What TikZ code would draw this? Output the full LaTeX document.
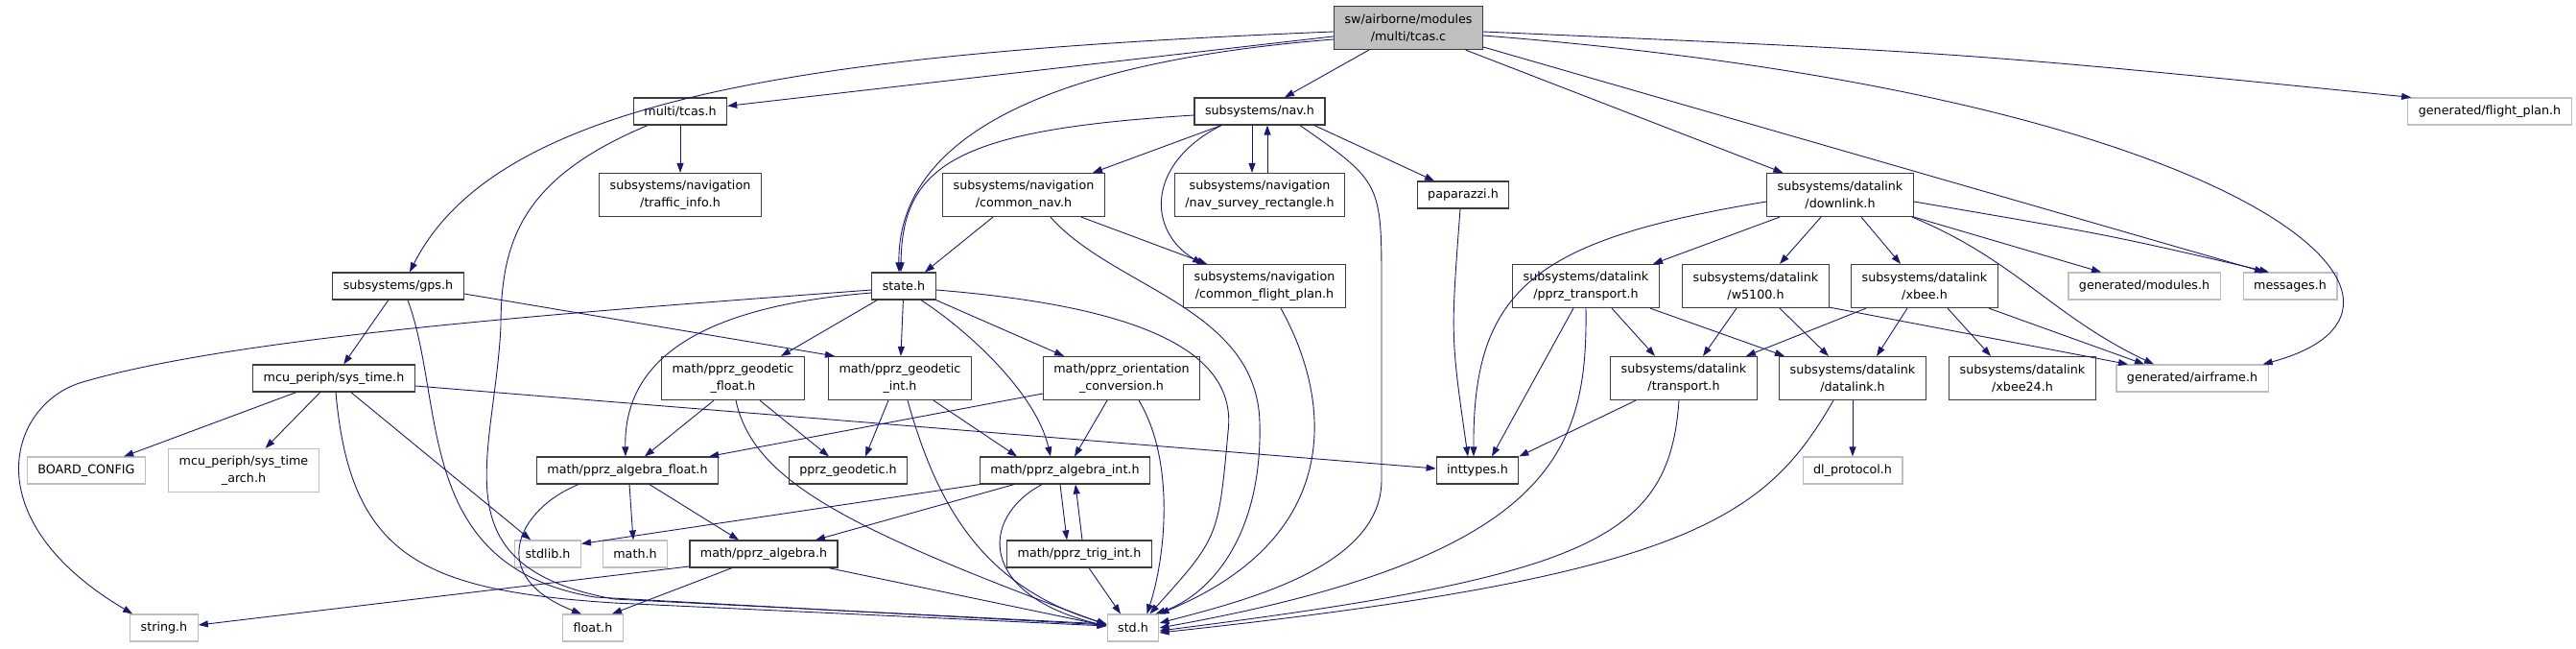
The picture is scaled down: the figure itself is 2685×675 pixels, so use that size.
\documentclass[tikz,border=0pt]{standalone}
\usepackage{fontspec}
\setmainfont{DejaVu Sans}
\usetikzlibrary{arrows.meta}
\definecolor{dxblue}{RGB}{25,25,112}
\definecolor{dxframe}{RGB}{60,60,60}
\definecolor{dxgray}{RGB}{191,191,191}
\tikzset{
  hdr/.style={draw=dxframe, line width=1.2pt, fill=white, inner xsep=11pt, inner ysep=2pt,
    minimum height=28pt, align=center, font=\fontsize{12.7}{18}\selectfont},
  sys/.style={hdr, draw=dxgray},
  two/.style={minimum height=45pt},
  root/.style={hdr, two, fill=dxgray},
  incl/.style={draw=dxblue, line width=0.9pt, -{Triangle[length=10pt,width=7pt]}}
}

\begin{document}
\begin{tikzpicture}[x=1pt,y=-1pt]
        \useasboundingbox (0,0) rectangle (2685,675);

        % Source file
        \node[root] (tcasc) at (1468,29) {sw/airborne/modules\\/multi/tcas.c};

        % First level headers
        \node[hdr] (tcash) at (709,116) {multi/tcas.h};
        \node[hdr] (navh) at (1313,116) {subsystems/nav.h};
        \node[sys] (flightplan) at (2595,116) {generated/flight\_plan.h};
        \node[hdr, two] (traffic) at (709,203) {subsystems/navigation\\/traffic\_info.h};
        \node[hdr, two] (commonnav) at (1067,203) {subsystems/navigation\\/common\_nav.h};
        \node[hdr, two] (survey) at (1313,203) {subsystems/navigation\\/nav\_survey\_rectangle.h};
        \node[hdr] (paparazzi) at (1525,203) {paparazzi.h};
        \node[hdr, two] (downlink) at (1918,203) {subsystems/datalink\\/downlink.h};

        % Middle row
        \node[hdr] (gps) at (415,298) {subsystems/gps.h};
        \node[hdr] (state) at (942,298) {state.h};
        \node[hdr, two] (cfp) at (1318,298) {subsystems/navigation\\/common\_flight\_plan.h};
        \node[hdr, two] (pprztr) at (1653,298) {subsystems/datalink\\/pprz\_transport.h};
        \node[hdr, two] (w5100) at (1830,298) {subsystems/datalink\\/w5100.h};
        \node[hdr, two] (xbee) at (2006,298) {subsystems/datalink\\/xbee.h};
        \node[sys] (modules) at (2235,298) {generated/modules.h};
        \node[sys] (messages) at (2387,298) {messages.h};

        \node[hdr] (systime) at (348,394) {mcu\_periph/sys\_time.h};
        \node[hdr, two] (geofloat) at (764,394) {math/pprz\_geodetic\\\_float.h};
        \node[hdr, two] (geoint) at (938,394) {math/pprz\_geodetic\\\_int.h};
        \node[hdr, two] (orient) at (1169,394) {math/pprz\_orientation\\\_conversion.h};
        \node[hdr, two] (transport) at (1755,394) {subsystems/datalink\\/transport.h};
        \node[hdr, two] (datalink) at (1931,394) {subsystems/datalink\\/datalink.h};
        \node[hdr, two] (xbee24) at (2108,394) {subsystems/datalink\\/xbee24.h};
        \node[sys] (airframe) at (2285,394) {generated/airframe.h};

        \node[sys] (boardcfg) at (90,490) {BOARD\_CONFIG};
        \node[sys, two] (systimearch) at (254,490) {mcu\_periph/sys\_time\\\_arch.h};
        \node[hdr] (algfloat) at (654,490) {math/pprz\_algebra\_float.h};
        \node[hdr] (geodetic) at (884,490) {pprz\_geodetic.h};
        \node[hdr] (algint) at (1110,490) {math/pprz\_algebra\_int.h};
        \node[hdr] (inttypes) at (1540,490) {inttypes.h};
        \node[sys] (dlproto) at (1931,490) {dl\_protocol.h};

        \node[sys] (stdlib) at (571,577) {stdlib.h};
        \node[sys] (mathh) at (662,577) {math.h};
        \node[hdr] (algebra) at (796,577) {math/pprz\_algebra.h};
        \node[hdr] (trigint) at (1125,577) {math/pprz\_trig\_int.h};

        % System headers at the bottom
        \node[sys] (stringh) at (171,654) {string.h};
        \node[sys] (floath) at (618,654) {float.h};
        \node[sys] (stdh) at (1181,654) {std.h};

        % Straight includes, centre to centre
        \foreach \a/\b in {tcasc/tcash, tcasc/navh, tcasc/downlink, tcash/traffic,
            gps/systime, systime/boardcfg, systime/systimearch, systime/stdlib,
            state/geoint, datalink/dlproto} {
            \draw[incl] (\a) -- (\b);
        }

        % Includes of tcas.c
        \draw[incl] ([yshift=-4pt]tcasc.west) .. controls (850,55) and (520,100) .. ([xshift=12pt]gps.north);
        \draw[incl] ([yshift=-12pt]tcasc.west) .. controls (1150,60) and (935,120) .. ([xshift=-5pt]state.north);
        \draw[incl] ([yshift=-20pt]tcasc.east) -- ([xshift=-27pt]messages.north);
        \draw[incl] ([yshift=-8pt]tcasc.east) .. controls (2350,100) and (2580,320) .. ([xshift=-6pt]airframe.north east);
        \draw[incl] ([yshift=-4pt]tcasc.east) .. controls (2050,55) .. ([xshift=4pt]flightplan.north west);

        % multi/tcas.h, gps.h and sys_time.h
        \draw[incl] ([xshift=-34pt]tcash.south) .. controls (545,185) and (522,250) .. (522,340)
            .. controls (515,480) and (455,590) .. (640,624) -- ([yshift=4pt]stdh.west);
        \draw[incl] ([xshift=10pt]gps.south) .. controls (465,420) and (430,590) .. (620,622) -- ([yshift=3pt]stdh.west);
        \draw[incl] ([yshift=-8pt]gps.east) -- ([xshift=-68pt]geoint.north);
        \draw[incl] ([xshift=2pt]systime.south) .. controls (365,580) and (440,615) .. (640,628) -- ([yshift=2pt]stdh.west);
        \draw[incl] ([yshift=-8pt]systime.east) -- ([yshift=2pt]inttypes.west);

        % nav.h and navigation headers
        \draw[incl] ([yshift=-4pt]navh.west) .. controls (1000,135) and (940,170) .. ([xshift=-3pt]state.north);
        \draw[incl] ([xshift=-40pt]navh.south) -- ([xshift=72pt]commonnav.north);
        \draw[incl] ([xshift=-8pt]navh.south) -- ([xshift=-8pt]survey.north);
        \draw[incl] ([xshift=8pt]survey.north) -- ([xshift=8pt]navh.south);
        \draw[incl] ([xshift=-40pt]navh.south) .. controls (1195,170) and (1195,240) .. ([xshift=-65pt]cfp.north);
        \draw[incl] ([xshift=42pt]navh.south) .. controls (1440,190) .. (1440,300) -- (1440,500)
            .. controls (1440,590) and (1300,625) .. ([yshift=5pt]stdh.east);
        \draw[incl] ([xshift=57pt]navh.south) -- ([xshift=-30pt]paparazzi.north);
        \draw[incl] ([xshift=-32pt]commonnav.south) -- ([xshift=22pt]state.north);
        \draw[incl] ([xshift=60pt]commonnav.south) -- ([xshift=-60pt]cfp.north);
        \draw[incl] ([xshift=28pt]commonnav.south) .. controls (1160,300) and (1310,320) .. (1313,440)
            .. controls (1316,560) and (1260,620) .. ([xshift=-4pt]stdh.north east);
        \draw[incl] ([xshift=17pt]cfp.south) .. controls (1390,420) and (1400,560) .. (stdh.north east);
        \draw[incl] ([xshift=-3pt]paparazzi.south) .. controls (1512,350) .. ([xshift=-10pt]inttypes.north);

        % downlink.h and the datalink headers
        \draw[incl] ([yshift=-7pt]downlink.west) .. controls (1600,250) and (1535,300) .. ([xshift=-4pt]inttypes.north);
        \draw[incl] ([xshift=-63pt]downlink.south) -- ([xshift=70pt]pprztr.north);
        \draw[incl] ([xshift=-20pt]downlink.south) -- ([xshift=25pt]w5100.north);
        \draw[incl] ([xshift=22pt]downlink.south) -- ([xshift=-25pt]xbee.north);
        \draw[incl] (downlink.south east) -- ([xshift=-45pt]modules.north);
        \draw[incl] ([yshift=-7pt]downlink.east) .. controls (2200,245) .. ([xshift=-22pt]messages.north);
        \draw[incl] ([xshift=-2pt]downlink.south east) .. controls (2100,270) and (2140,330) .. ([xshift=-40pt]airframe.north);

        \draw[incl] ([xshift=-13pt]pprztr.south) -- ([xshift=15pt]inttypes.north);
        \draw[incl] (pprztr.south) .. controls (1655,470) and (1620,580) .. (stdh.east);
        \draw[incl] ([xshift=27pt]pprztr.south) -- ([xshift=-30pt]transport.north);
        \draw[incl] ([xshift=-10pt]pprztr.south east) -- ([xshift=-71pt]datalink.north);
        \draw[incl] ([xshift=-20pt]w5100.south) -- ([xshift=20pt]transport.north);
        \draw[incl] ([xshift=25pt]w5100.south) -- ([xshift=-25pt]datalink.north);
        \draw[incl] ([yshift=1pt]w5100.south east) -- ([xshift=-67pt]airframe.north);
        \draw[incl] ([xshift=-61pt]xbee.south) -- ([xshift=-12pt]transport.north east);
        \draw[incl] ([xshift=-18pt]xbee.south) -- ([xshift=25pt]datalink.north);
        \draw[incl] ([xshift=24pt]xbee.south) -- ([xshift=-33pt]xbee24.north);
        \draw[incl] ([xshift=-10pt]xbee.south east) -- ([xshift=-50pt]airframe.north);
        \draw[incl] ([xshift=-50pt]transport.south) -- (inttypes.north east);
        \draw[incl] ([xshift=-5pt]transport.south) .. controls (1740,560) and (1660,600) .. ([yshift=-3pt]stdh.east);
        \draw[incl] ([xshift=-20pt]datalink.south) .. controls (1840,540) and (1760,600) .. ([yshift=-5pt]stdh.east);

        % state.h and the math headers
        \draw[incl] ([yshift=-4pt]state.west) .. controls (600,325) and (250,350) .. (86,398)
            .. controls (10,420) and (-30,540) .. ([xshift=3pt]stringh.north west);
        \draw[incl] ([xshift=6pt]state.south west) -- ([xshift=-25pt]geofloat.north east);
        \draw[incl] ([yshift=-7pt]state.west) .. controls (720,320) and (650,380) .. ([xshift=-2pt]algfloat.north);
        \draw[incl] ([xshift=18pt]state.south) .. controls (1010,345) and (1080,410) .. ([xshift=-15pt]algint.north);
        \draw[incl] (state.south east) -- ([xshift=-60pt]orient.north);
        \draw[incl] ([yshift=-4pt]state.east) .. controls (1200,320) and (1290,370) .. (1280,450)
            .. controls (1270,560) .. ([xshift=-10pt]stdh.north east);

        \draw[incl] ([xshift=-20pt]geofloat.south) -- ([xshift=18pt]algfloat.north);
        \draw[incl] ([xshift=28pt]geofloat.south) -- ([xshift=-20pt]geodetic.north);
        \draw[incl] ([xshift=3pt]geofloat.south) .. controls (785,500) and (880,550) .. ([yshift=3pt]stdh.west);
        \draw[incl] ([xshift=-12pt]geoint.south) -- ([xshift=18pt]geodetic.north);
        \draw[incl] ([xshift=35pt]geoint.south) -- ([xshift=-50pt]algint.north);
        \draw[incl] ([xshift=8pt]geoint.south) .. controls (975,520) and (1020,610) .. ([yshift=4pt]stdh.west);
        \draw[incl] ([yshift=-16pt]orient.west) -- ([xshift=-10pt]algfloat.north east);
        \draw[incl] ([xshift=-15pt]orient.south) -- ([xshift=10pt]algint.north);
        \draw[incl] ([xshift=18pt]orient.south) .. controls (1225,480) and (1215,580) .. ([xshift=-13pt]stdh.north east);

        \draw[incl] ([xshift=-51pt]algfloat.south) .. controls (540,530) and (505,600) .. ([xshift=-12pt]floath.north);
        \draw[incl] ([xshift=2pt]algfloat.south) -- ([xshift=-2pt]mathh.north);
        \draw[incl] ([xshift=23pt]algfloat.south) -- ([xshift=-26pt]algebra.north);
        \draw[incl] (algint.south west) -- ([yshift=-4pt]stdlib.north east);
        \draw[incl] ([xshift=-53pt]algint.south) -- ([xshift=54pt]algebra.north);
        \draw[incl] ([xshift=-5pt]algint.south) -- ([xshift=-13pt]trigint.north);
        \draw[incl] ([xshift=3pt]trigint.north) -- ([xshift=11pt]algint.south);
        \draw[incl] ([xshift=-24pt]algint.south) .. controls (1020,540) and (1020,620) .. ([yshift=2pt]stdh.west);
        \draw[incl] ([xshift=10pt]trigint.south) -- ([xshift=-13pt]stdh.north);

        \draw[incl] ([yshift=-13pt]algebra.west) -- ([yshift=3pt]stringh.east);
        \draw[incl] ([xshift=-33pt]algebra.south) -- ([xshift=20pt]floath.north);
        \draw[incl] ([xshift=-10pt]algebra.south east) -- ([yshift=2pt]stdh.west);
    \end{tikzpicture}
\end{document}
